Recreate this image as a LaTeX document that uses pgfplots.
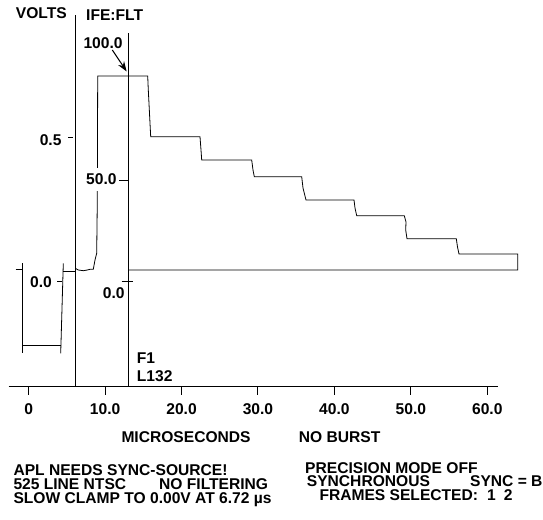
\documentclass[border=0pt]{standalone}
\usepackage{fontspec}
\setmainfont{Liberation Sans}
\usepackage{pgfplots}
\pgfplotsset{compat=1.18}
\usetikzlibrary{arrows.meta}
\newcommand\T{\fontsize{15.6}{14.3}\selectfont\bfseries}
\begin{document}
\begin{tikzpicture}
\begin{axis}[
  x=7.643pt, y=288pt,
  xmin=-2.617, xmax=61.40, ymin=-0.3649, ymax=0.93,
  axis x line*=bottom, axis y line=none,
  axis line style={-, line width=1pt},
  xtick={0,10,20,30,40,50,60},
  xticklabels={0,10.0,20.0,30.0,40.0,50.0,60.0},
  tick align=outside, major tick length=8pt,
  every tick/.style={black, line width=1pt},
  xticklabel style={font=\T, anchor=base, inner sep=0pt, yshift=-19.8pt},
  clip=false,
]
\coordinate (O) at (axis cs:0,0);
% sync pulse (left)
\addplot[black, line width=0.8pt] coordinates {(-1.701,0.0431) (-0.785,0.0431)};
\addplot[black, line width=0.8pt] coordinates {(-0.785,0.0639) (-0.785,-0.2486)};
\addplot[black, line width=0.8pt] coordinates {(-0.785,-0.2198) (4.187,-0.2198)};
\addplot[black, line width=0.8pt] coordinates {(4.187,-0.2486) (4.527,0.0639)};
\addplot[black, line width=0.8pt] coordinates {(4.527,0.0347) (6.097,0.0347)};
% vertical cursor lines
\addplot[black, line width=1pt] coordinates {(6.097,0.926) (6.097,-0.3649)};
\addplot[black, line width=1pt] coordinates {(13.032,0.8625) (13.032,-0.3649)};
% scale ticks
\addplot[black, line width=1pt] coordinates {(5.181,0.5) (5.757,0.5)};
\addplot[black, line width=1pt] coordinates {(3.742,0) (4.357,0)};
\addplot[black, line width=1pt] coordinates {(11.854,0.3497) (12.953,0.3497)};
\addplot[black, line width=1pt] coordinates {(12.168,0.0024) (13.607,0.0024)};
% staircase waveform
\addplot[black, line width=0.8pt] coordinates {
(6.097,0.0465) (6.490,0.0406) (7.144,0.0382) (7.667,0.0406) (8.021,0.0431)
(8.452,0.0431) (8.675,0.0753) (8.897,0.0986) (8.976,0.2837) (9.028,0.7142)
(15.570,0.7142) (15.648,0.6656) (15.962,0.5035)
(22.413,0.5035) (22.543,0.4573) (22.635,0.4226)
(29.177,0.4226) (29.347,0.3878) (29.517,0.3646)
(35.719,0.3646) (35.889,0.3253) (36.281,0.2837)
(42.562,0.2837) (42.692,0.2559) (42.915,0.2292)
(49.143,0.2292) (49.365,0.2073) (49.326,0.1795) (49.496,0.1493)
(55.947,0.1493) (56.104,0.1205) (56.300,0.0962)
(63.980,0.0962) (63.980,0.0406) (13.032,0.0406)
};
% arrow to 100 IRE
\addplot[black, line width=1pt, -{Stealth[length=10pt,width=7pt]}] coordinates {(10.94,0.8045) (12.82,0.7300)};
\end{axis}
\pgfresetboundingbox
\path[use as bounding box] (O) ++(-28.7pt,281.7pt) coordinate (TL) rectangle ++(543pt,-519pt);
\begin{scope}[shift={(TL)}, x=1pt, y=-1pt, every node/.style={inner sep=0pt, font=\T}]
\node[anchor=base west] at (15.7,19) {VOLTS};
\node[anchor=base west] at (86,21) {IFE:FLT};
\node[anchor=base west] at (83.3,48.3) {100.0};
\node[anchor=base east] at (61.7,145.7) {0.5};
\node[anchor=base west, fill=white, inner xsep=1pt, inner ysep=6pt] at (85,185) {50.0};
\node[anchor=base west] at (30,287.7) {0.0};
\node[anchor=base west] at (102.7,299) {0.0};
\node[anchor=base west] at (136.7,363.3) {F1};
\node[anchor=base west] at (136.7,381.7) {L132};
\node[anchor=base west] at (121.3,442) {MICROSECONDS};
\node[anchor=base west] at (298.7,442) {NO BURST};
\node[anchor=base west] at (13.3,475) {APL NEEDS SYNC-SOURCE!};
\node[anchor=base west] at (13.3,489.3) {525 LINE NTSC};
\node[anchor=base west] at (159,489.3) {NO FILTERING};
\node[anchor=base west] at (13.3,503.3) {SLOW CLAMP TO 0.00V AT 6.72 µs};
\node[anchor=base west] at (305,473.3) {PRECISION MODE OFF};
\node[anchor=base west] at (306.7,486.7) {SYNCHRONOUS};
\node[anchor=base east] at (542.7,486.7) {SYNC = B};
\node[anchor=base west] at (319.3,500.7) {FRAMES SELECTED:\hspace{9pt}1\hspace{8pt}2};
\end{scope}
\end{tikzpicture}
\end{document}
